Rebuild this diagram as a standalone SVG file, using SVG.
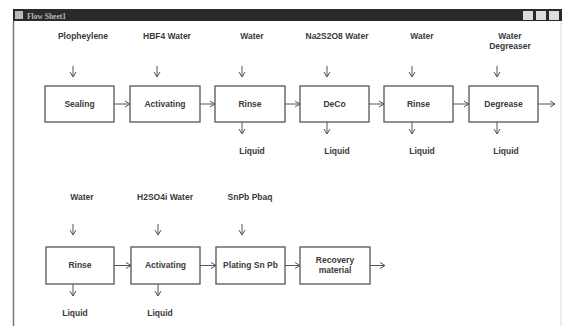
<svg xmlns="http://www.w3.org/2000/svg" width="562" height="326" viewBox="0 0 562 326">
<style>
text{font-family:"Liberation Sans",Arial,sans-serif;font-size:8.5px;font-weight:bold;fill:#3a3a3a;text-anchor:middle}
.box{fill:#fff;stroke:#555;stroke-width:1.3}
.c{stroke:#555;stroke-width:1;fill:none;marker-end:url(#ah)}
</style>
<defs>
<marker id="ah" markerWidth="8" markerHeight="8" refX="6" refY="4" orient="auto" markerUnits="userSpaceOnUse">
<polyline points="1,1 6,4 1,7" fill="none" stroke="#555" stroke-width="1"/>
</marker>
</defs>
<rect width="562" height="326" fill="#fff"/>
<g id="window">
<rect x="13" y="9" width="549" height="12" fill="#2a2a2a"/>
<rect x="15" y="11" width="8" height="8" fill="#bbb"/>
<text x="27" y="18.5" style="font-family:'Liberation Serif',serif;font-size:7.5px;fill:#bbb;text-anchor:start">Flow Sheet1</text>
<rect x="523" y="11" width="10" height="9" fill="#ddd"/>
<rect x="536" y="11" width="10" height="9" fill="#ddd"/>
<rect x="549" y="11" width="10" height="9" fill="#ddd"/>
<line x1="13.5" y1="21" x2="13.5" y2="326" stroke="#777" stroke-width="1.5"/>
<line x1="561" y1="21" x2="561" y2="326" stroke="#ddd" stroke-width="1"/>
</g>
<g id="connectors">
<line class="c" x1="73" y1="66" x2="73" y2="77"/>
<line class="c" x1="157" y1="66" x2="157" y2="77"/>
<line class="c" x1="242" y1="66" x2="242" y2="77"/>
<line class="c" x1="327" y1="66" x2="327" y2="77"/>
<line class="c" x1="412" y1="66" x2="412" y2="77"/>
<line class="c" x1="497" y1="66" x2="497" y2="77"/>
<line class="c" x1="114" y1="104" x2="130" y2="104"/>
<line class="c" x1="200" y1="104" x2="215" y2="104"/>
<line class="c" x1="285" y1="104" x2="300" y2="104"/>
<line class="c" x1="369" y1="104" x2="384" y2="104"/>
<line class="c" x1="453" y1="104" x2="469" y2="104"/>
<line class="c" x1="538" y1="104" x2="555" y2="104"/>
<line class="c" x1="242" y1="122" x2="242" y2="134"/>
<line class="c" x1="327" y1="122" x2="327" y2="134"/>
<line class="c" x1="412" y1="122" x2="412" y2="134"/>
<line class="c" x1="497" y1="122" x2="497" y2="134"/>
<line class="c" x1="73" y1="224" x2="73" y2="235"/>
<line class="c" x1="158" y1="224" x2="158" y2="235"/>
<line class="c" x1="242" y1="224" x2="242" y2="235"/>
<line class="c" x1="114" y1="265.5" x2="131" y2="265.5"/>
<line class="c" x1="200" y1="265.5" x2="216" y2="265.5"/>
<line class="c" x1="285" y1="265.5" x2="300" y2="265.5"/>
<line class="c" x1="370" y1="265.5" x2="385" y2="265.5"/>
<line class="c" x1="73" y1="284" x2="73" y2="296"/>
<line class="c" x1="158" y1="284" x2="158" y2="296"/>
</g>
<g id="in1"><text x="83" y="39">Plopheylene</text></g>
<g id="in2"><text x="167" y="39">HBF4 Water</text></g>
<g id="in3"><text x="252" y="39">Water</text></g>
<g id="in4"><text x="337" y="39">Na2S2O8 Water</text></g>
<g id="in5"><text x="422" y="39">Water</text></g>
<g id="in6"><text x="510" y="39">Water</text><text x="510" y="49">Degreaser</text></g>
<g id="sealing"><rect class="box" x="45" y="86" width="69" height="36"/><text x="79.5" y="107">Sealing</text></g>
<g id="activating1"><rect class="box" x="130" y="86" width="70" height="36"/><text x="165" y="107">Activating</text></g>
<g id="rinse1"><rect class="box" x="215" y="86" width="70" height="36"/><text x="250" y="107">Rinse</text></g>
<g id="deco"><rect class="box" x="300" y="86" width="69" height="36"/><text x="334.5" y="107">DeCo</text></g>
<g id="rinse2"><rect class="box" x="384" y="86" width="69" height="36"/><text x="418.5" y="107">Rinse</text></g>
<g id="degrease"><rect class="box" x="469" y="86" width="69" height="36"/><text x="503.5" y="107">Degrease</text></g>
<g id="out1"><text x="252" y="154">Liquid</text></g>
<g id="out2"><text x="337" y="154">Liquid</text></g>
<g id="out3"><text x="422" y="154">Liquid</text></g>
<g id="out4"><text x="506" y="154">Liquid</text></g>
<g id="in7"><text x="82" y="200">Water</text></g>
<g id="in8"><text x="165" y="200">H2SO4i Water</text></g>
<g id="in9"><text x="250" y="200">SnPb Pbaq</text></g>
<g id="rinse3"><rect class="box" x="46" y="247" width="68" height="37"/><text x="80" y="268">Rinse</text></g>
<g id="activating2"><rect class="box" x="131" y="247" width="69" height="37"/><text x="165.5" y="268">Activating</text></g>
<g id="plating"><rect class="box" x="216" y="247" width="69" height="37"/><text x="250.5" y="268">Plating Sn Pb</text></g>
<g id="recovery"><rect class="box" x="300" y="247" width="70" height="37"/><text x="335" y="263">Recovery</text><text x="335" y="273">material</text></g>
<g id="out5"><text x="75" y="316">Liquid</text></g>
<g id="out6"><text x="160" y="316">Liquid</text></g>
</svg>
